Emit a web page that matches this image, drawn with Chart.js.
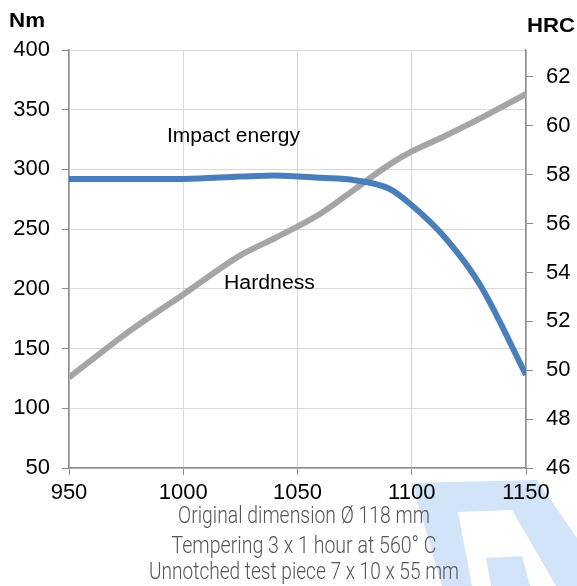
<!DOCTYPE html>
<html>
<head>
<meta charset="utf-8">
<script src="https://cdn.jsdelivr.net/npm/chart.js@4"></script>
<style>
  html, body { margin: 0; padding: 0; background: #fff; }
  #wrap { width: 577px; height: 586px; position: relative; }
</style>
</head>
<body>
<div id="wrap"><canvas id="chart"></canvas></div>
<script>
const temperatures = [950, 975, 1000, 1025, 1040, 1060, 1075, 1090, 1100, 1115, 1130, 1150];
const impactEnergy = [292, 292, 292, 294, 295, 293, 291, 284, 270, 242, 203, 128];
const hardness = [49.7, 51.5, 53.1, 54.7, 55.4, 56.4, 57.4, 58.4, 58.95, 59.6, 60.3, 61.3];
const xTicks = [950, 1000, 1050, 1100, 1150];
const leftTicks = [50, 100, 150, 200, 250, 300, 350, 400];
const rightTicks = [46, 48, 50, 52, 54, 56, 58, 60, 62];
const captionLines = [
  'Original dimension \u00d8 118 mm',
  'Tempering 3 x 1 hour at 560\u00b0 C',
  'Unnotched test piece 7 x 10 x 55 mm'
];

const FONT = "'Liberation Sans', Arial, sans-serif";

const toPoints = (vals) => vals.map((v, i) => ({ x: temperatures[i], y: v }));

// draw text squeezed/stretched to a given width
const fitText = (ctx, text, x, y, width) => {
  const w = ctx.measureText(text).width;
  ctx.save();
  ctx.translate(x, y);
  ctx.scale(width / w, 1);
  ctx.fillText(text, 0, 0);
  ctx.restore();
};

// light blue watermark behind everything
const watermarkPlugin = {
  id: 'watermarkPlugin',
  beforeDraw: (chart) => {
    const { ctx } = chart;
    ctx.save();
    ctx.fillStyle = '#d3e4f8';
    ctx.beginPath();
    ctx.moveTo(412, 483);
    ctx.lineTo(537, 480);
    ctx.lineTo(577, 538);
    ctx.lineTo(577, 586);
    ctx.lineTo(442, 586);
    ctx.closePath();
    ctx.fill();
    ctx.fillStyle = '#fff';
    ctx.beginPath();
    ctx.moveTo(458, 512);
    ctx.lineTo(512, 510);
    ctx.lineTo(556, 586);
    ctx.lineTo(530, 586);
    ctx.lineTo(522, 556);
    ctx.lineTo(486, 558);
    ctx.lineTo(491, 586);
    ctx.lineTo(472, 586);
    ctx.closePath();
    ctx.fill();
    ctx.restore();
  }
};

const labelsPlugin = {
  id: 'labelsPlugin',
  afterDraw: (chart) => {
    const { ctx } = chart;
    ctx.save();
    ctx.fillStyle = '#000';
    ctx.textBaseline = 'alphabetic';
    ctx.textAlign = 'left';
    ctx.font = 'bold 20px ' + FONT;
    fitText(ctx, 'Nm', 9, 27, 36);
    fitText(ctx, 'HRC', 527, 32, 48);

    ctx.font = '20px ' + FONT;
    fitText(ctx, 'Impact energy', 167, 142, 133);
    fitText(ctx, 'Hardness', 224, 289, 91);

    // condensed caption under the x axis
    ctx.fillStyle = '#555';
    ctx.font = '300 24px Roboto, ' + FONT;
    ctx.textAlign = 'center';
    const widths = [252, 265, 310];
    const baselines = [523, 553, 579];
    captionLines.forEach((line, i) => {
      fitText(ctx, line, 304, baselines[i], widths[i]);
    });
    ctx.restore();
  }
};

const ctx = document.getElementById('chart').getContext('2d');
new Chart(ctx, {
  type: 'line',
  data: {
    datasets: [
      {
        label: 'Impact energy',
        data: toPoints(impactEnergy),
        yAxisID: 'y',
        borderColor: '#4a7ebb',
        borderWidth: 6,
        pointRadius: 0,
        cubicInterpolationMode: 'monotone',
        borderCapStyle: 'butt'
      },
      {
        label: 'Hardness',
        data: toPoints(hardness),
        yAxisID: 'y1',
        borderColor: '#a5a5a5',
        borderWidth: 6,
        pointRadius: 0,
        cubicInterpolationMode: 'monotone',
        borderCapStyle: 'butt'
      }
    ]
  },
  options: {
    responsive: true,
    maintainAspectRatio: false,
    animation: false,
    layout: { padding: { top: 50, bottom: 76, left: 0, right: 0 } },
    plugins: {
      legend: { display: false },
      tooltip: { enabled: false }
    },
    scales: {
      x: {
        type: 'linear',
        min: 950,
        max: 1150,
        afterBuildTicks: (scale) => {
          scale.ticks = xTicks.map(v => ({ value: v }));
        },
        afterFit: (scale) => { scale.height = 42; },
        grid: { color: '#d9d9d9', tickColor: '#8c8c8c', tickLength: 7 },
        border: { color: '#8c8c8c', width: 1.5 },
        ticks: {
          color: '#000',
          font: { family: FONT, size: 22 },
          padding: 5,
          maxRotation: 0,
          callback: (v) => String(v)
        }
      },
      y: {
        position: 'left',
        min: 50,
        max: 400,
        afterBuildTicks: (scale) => {
          scale.ticks = leftTicks.map(v => ({ value: v }));
        },
        afterFit: (scale) => { scale.width = 69; },
        grid: { color: '#d9d9d9', tickColor: '#8c8c8c', tickLength: 7 },
        border: { color: '#8c8c8c', width: 1.5 },
        ticks: { color: '#000', font: { family: FONT, size: 22 }, padding: 12 }
      },
      y1: {
        position: 'right',
        min: 46,
        max: 63.1,
        afterBuildTicks: (scale) => {
          scale.ticks = rightTicks.map(v => ({ value: v }));
        },
        afterFit: (scale) => { scale.width = 51; },
        grid: { drawOnChartArea: false, tickColor: '#8c8c8c', tickLength: 7 },
        border: { color: '#8c8c8c', width: 1.5 },
        ticks: { color: '#000', font: { family: FONT, size: 22 }, padding: 13 }
      }
    }
  },
  plugins: [watermarkPlugin, labelsPlugin]
});
</script>
</body>
</html>
